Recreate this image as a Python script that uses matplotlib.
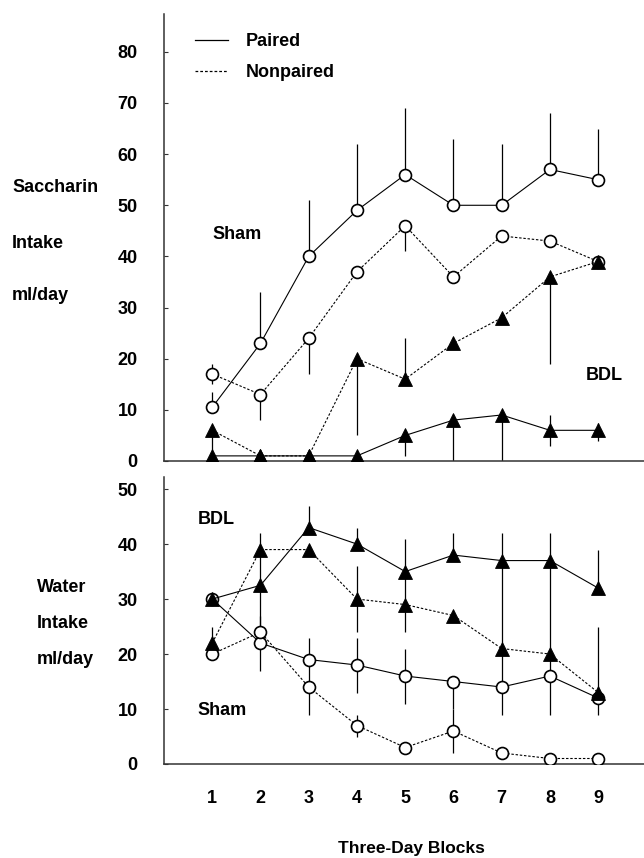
import matplotlib.pyplot as plt
from matplotlib.lines import Line2D

plt.rcParams['font.family'] = ['Liberation Sans', 'DejaVu Sans']
plt.rcParams['font.weight'] = 'bold'

blocks = [1, 2, 3, 4, 5, 6, 7, 8, 9]

# saccharin intake (top panel)
sac_sham_p = [10.5, 23, 40, 49, 56, 50, 50, 57, 55]
sac_sham_p_lo = [0, 0, 0, 0, 0, 0, 0, 0, 0]
sac_sham_p_hi = [3, 10, 11, 13, 13, 13, 12, 11, 10]
sac_sham_n = [17, 13, 24, 37, 46, 36, 44, 43, 39]
sac_sham_n_lo = [2, 5, 7, 0, 5, 0, 0, 0, 0]
sac_sham_n_hi = [2, 0, 0, 0, 0, 0, 0, 0, 0]
sac_bdl_p = [1, 1, 1, 1, 5, 8, 9, 6, 6]
sac_bdl_p_lo = [0, 0, 0, 0, 4, 8, 9, 3, 2]
sac_bdl_p_hi = [0, 0, 0, 0, 1, 0, 0, 3, 1.5]
sac_bdl_n = [6, 1, 1, 20, 16, 23, 28, 36, 39]
sac_bdl_n_lo = [5, 0, 0, 15, 0, 0, 0, 17, 0]
sac_bdl_n_hi = [0, 0, 0, 0, 8, 0, 0, 0, 0]

# water intake (bottom panel)
wat_sham_p = [30, 22, 19, 18, 16, 15, 14, 16, 12]
wat_sham_p_lo = [0, 5, 5, 5, 5, 5, 5, 7, 3]
wat_sham_p_hi = [0, 0, 4, 5, 5, 0, 0, 0, 0]
wat_sham_n = [20, 24, 14, 7, 3, 6, 2, 1, 1]
wat_sham_n_lo = [0, 0, 5, 2, 0, 4, 0, 0, 0]
wat_sham_n_hi = [0, 3, 0, 2, 0, 4, 0, 0, 0]
wat_bdl_p = [30, 32.5, 43, 40, 35, 38, 37, 37, 32]
wat_bdl_p_lo = [0, 8, 0, 0, 6, 0, 16, 17, 0]
wat_bdl_p_hi = [0, 0, 4, 3, 6, 4, 5, 5, 7]
wat_bdl_n = [22, 39, 39, 30, 29, 27, 21, 20, 13]
wat_bdl_n_lo = [0, 7, 0, 6, 5, 0, 7, 4, 0]
wat_bdl_n_hi = [3, 3, 0, 6, 0, 0, 0, 0, 12]

dotted = (0, (2.2, 1.6))


def series(ax, y, lo, hi, marker, ls):
    ax.errorbar(blocks, y, yerr=[lo, hi], fmt='none', ecolor='black',
                elinewidth=0.9, capsize=0, zorder=2)
    if marker == 'o':
        ax.plot(blocks, y, color='black', lw=0.8, ls=ls, marker='o', ms=8.6,
                mfc='white', mec='black', mew=1.2, zorder=3)
    else:
        ax.plot(blocks, y, color='black', lw=0.8, ls=ls, marker='^', ms=9.8,
                mfc='black', mec='black', mew=0.6, zorder=4)


def style(ax, ymax, yticks):
    ax.set_xlim(0, 9.95)
    ax.set_ylim(0, ymax)
    ax.set_yticks(yticks)
    for s in ['top', 'right']:
        ax.spines[s].set_visible(False)
    for s in ['left', 'bottom']:
        ax.spines[s].set_color('#333333')
        ax.spines[s].set_linewidth(1.1)
    ax.tick_params(axis='y', direction='in', length=3, pad=19,
                   labelsize=13, color='#333333')
    ax.set_xticks(blocks)
    ax.tick_params(axis='x', length=0, pad=19, labelsize=13)


fig = plt.figure(figsize=(6.44, 8.58), dpi=100)
ax1 = fig.add_axes([164 / 644, 1 - 461 / 858, 480 / 644, 447 / 858])
ax2 = fig.add_axes([164 / 644, 1 - 764 / 858, 480 / 644, 287 / 858])

series(ax1, sac_sham_p, sac_sham_p_lo, sac_sham_p_hi, 'o', '-')
series(ax1, sac_sham_n, sac_sham_n_lo, sac_sham_n_hi, 'o', dotted)
series(ax1, sac_bdl_p, sac_bdl_p_lo, sac_bdl_p_hi, '^', '-')
series(ax1, sac_bdl_n, sac_bdl_n_lo, sac_bdl_n_hi, '^', dotted)
style(ax1, 87.4, range(0, 90, 10))
ax1.tick_params(axis='x', labelbottom=False)

series(ax2, wat_sham_p, wat_sham_p_lo, wat_sham_p_hi, 'o', '-')
series(ax2, wat_sham_n, wat_sham_n_lo, wat_sham_n_hi, 'o', dotted)
series(ax2, wat_bdl_p, wat_bdl_p_lo, wat_bdl_p_hi, '^', '-')
series(ax2, wat_bdl_n, wat_bdl_n_lo, wat_bdl_n_hi, '^', dotted)
style(ax2, 52.2, range(0, 60, 10))

# group labels
ax1.text(1.0, 44.2, 'Sham', fontsize=13, va='center')
ax1.text(8.75, 16.8, 'BDL', fontsize=13, va='center')
ax2.text(0.7, 44.4, 'BDL', fontsize=13, va='center')
ax2.text(0.7, 9.8, 'Sham', fontsize=13, va='center')

handles = [Line2D([], [], color='black', lw=0.9, ls='-'),
           Line2D([], [], color='black', lw=0.9, ls=dotted)]
ax1.legend(handles, ['Paired', 'Nonpaired'], loc='upper left',
           bbox_to_anchor=(195 / 644, 1 - 33 / 858), bbox_transform=fig.transFigure,
           frameon=False, fontsize=13, handlelength=1.8, handletextpad=1.0,
           labelspacing=0.8, borderpad=0, borderaxespad=0)

# axis labels
for txt, y in [('Saccharin', 188), ('Intake', 244), ('ml/day', 295)]:
    fig.text(12 / 644, 1 - y / 858, txt, fontsize=13, va='center', ha='left')
for txt, y in [('Water', 588), ('Intake', 624), ('ml/day', 660)]:
    fig.text(37 / 644, 1 - y / 858, txt, fontsize=13, va='center', ha='left')
fig.text(411 / 644, 1 - 848 / 858, 'Three-Day Blocks', fontsize=12.5,
         va='center', ha='center')

fig.savefig('out.png', dpi=100)
